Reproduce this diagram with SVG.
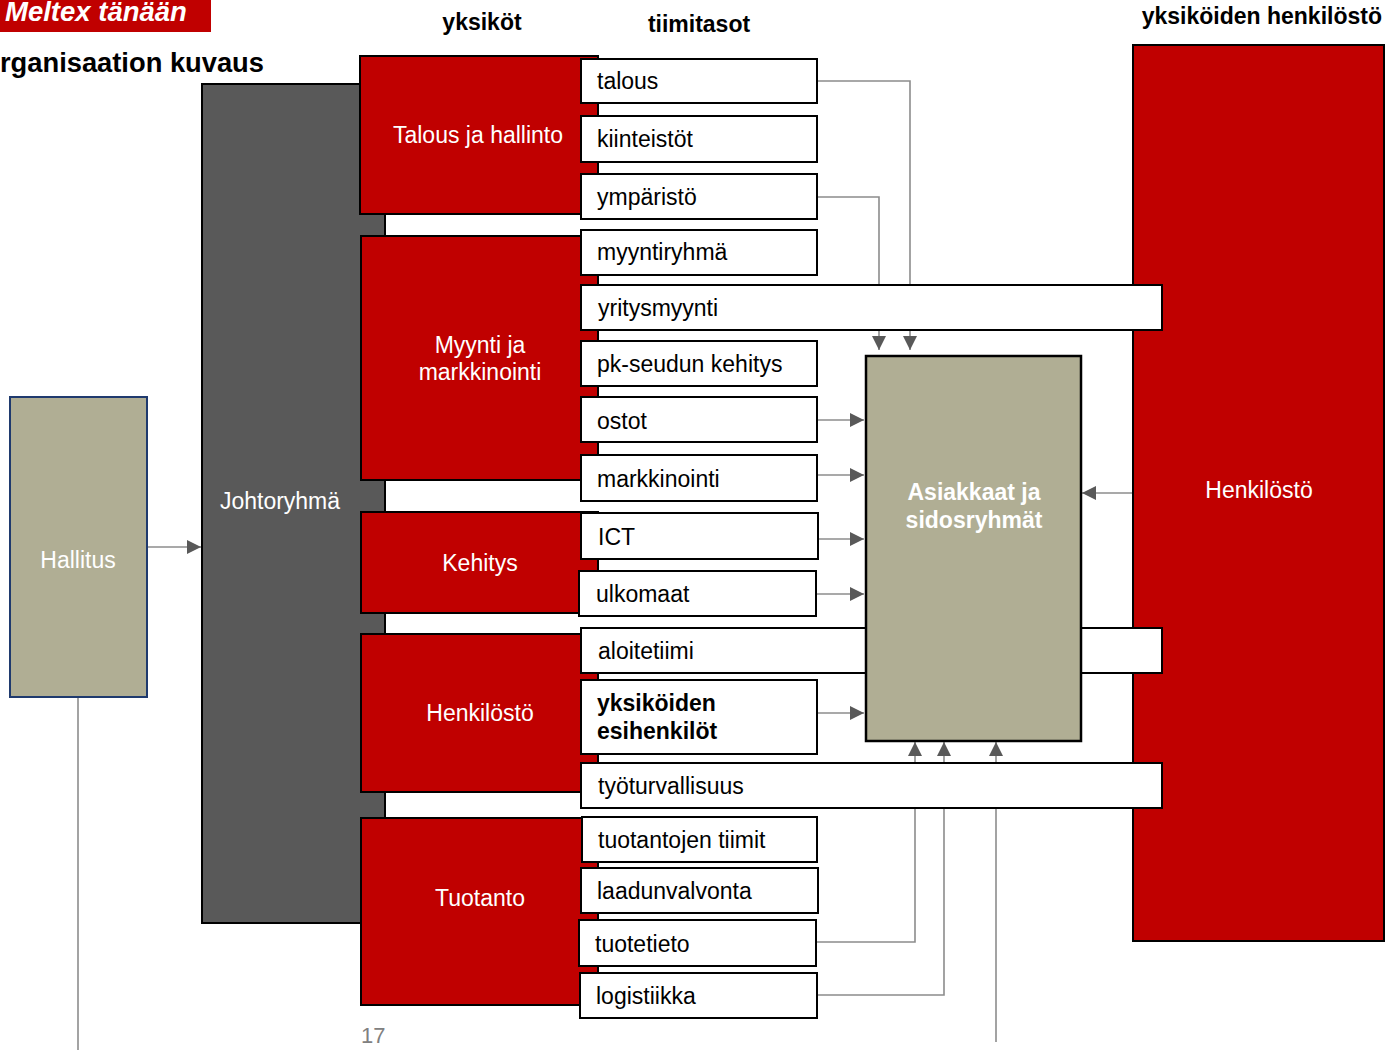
<svg xmlns="http://www.w3.org/2000/svg" width="1387" height="1050" viewBox="0 0 1387 1050">
<style>
text{font-family:"Liberation Sans",Arial,sans-serif;}
.hdr{font-size:23px;font-weight:bold;fill:#000;}
.unit{fill:#C00000;stroke:#000;stroke-width:2;}
.ut{font-size:23px;fill:#fff;text-anchor:middle;}
.team{fill:#fff;stroke:#000;stroke-width:2;}
.tt{font-size:23px;fill:#000;}
.olive{fill:#B0AE94;}
.conn{fill:none;stroke:#8C8C8C;stroke-width:1.6;}
</style>
<defs>
<marker id="arr" markerWidth="15" markerHeight="15" refX="14" refY="7" orient="auto" markerUnits="userSpaceOnUse">
<path d="M0,0 L14,7 L0,14 Z" fill="#595959"/>
</marker>
</defs>
<rect width="1387" height="1050" fill="#fff"/>

<g id="title">
<rect x="0" y="0" width="211" height="32" fill="#C00000"/>
<text x="5" y="21" style="font-size:27.5px;font-weight:bold;font-style:italic;fill:#fff">Meltex tänään</text>
<text x="0" y="72" style="font-size:27.3px;font-weight:bold;fill:#000">rganisaation kuvaus</text>
<text class="hdr" x="482" y="30" text-anchor="middle">yksiköt</text>
<text class="hdr" x="699" y="32" text-anchor="middle">tiimitasot</text>
<text class="hdr" x="1382" y="24" text-anchor="end">yksiköiden henkilöstö</text>
</g>

<g id="connectors">
<polyline class="conn" points="147,547 201,547" marker-end="url(#arr)"/>
<line class="conn" x1="78" y1="697" x2="78" y2="1050"/>
<polyline class="conn" points="817,81 910,81 910,350" marker-end="url(#arr)"/>
<polyline class="conn" points="817,197 879,197 879,350" marker-end="url(#arr)"/>
<polyline class="conn" points="817,420 864,420" marker-end="url(#arr)"/>
<polyline class="conn" points="817,475 864,475" marker-end="url(#arr)"/>
<polyline class="conn" points="818,539 864,539" marker-end="url(#arr)"/>
<polyline class="conn" points="816,594 864,594" marker-end="url(#arr)"/>
<polyline class="conn" points="817,713 864,713" marker-end="url(#arr)"/>
<polyline class="conn" points="1133,493 1082,493" marker-end="url(#arr)"/>
<polyline class="conn" points="816,942 915,942 915,742" marker-end="url(#arr)"/>
<polyline class="conn" points="817,995 944,995 944,742" marker-end="url(#arr)"/>
<polyline class="conn" points="996,1042 996,742" marker-end="url(#arr)"/>
</g>

<g id="hallitus">
<rect x="10" y="397" width="137" height="300" class="olive" stroke="#1F3A6E" stroke-width="2"/>
<text class="ut" x="78" y="568">Hallitus</text>
</g>

<g id="johtoryhma">
<rect x="202" y="84" width="183" height="839" fill="#595959" stroke="#000" stroke-width="2"/>
<text class="ut" x="280" y="509">Johtoryhmä</text>
</g>

<g id="unit-talous">
<rect class="unit" x="360" y="56" width="238" height="158"/>
<text class="ut" x="478" y="143">Talous ja hallinto</text>
</g>
<g id="unit-myynti">
<rect class="unit" x="361" y="236" width="237" height="244"/>
<text class="ut" x="480" y="353">Myynti ja</text>
<text class="ut" x="480" y="380">markkinointi</text>
</g>
<g id="unit-kehitys">
<rect class="unit" x="361" y="512" width="237" height="101"/>
<text class="ut" x="480" y="571">Kehitys</text>
</g>
<g id="unit-henkilosto">
<rect class="unit" x="361" y="634" width="237" height="158"/>
<text class="ut" x="480" y="721">Henkilöstö</text>
</g>
<g id="unit-tuotanto">
<rect class="unit" x="361" y="818" width="237" height="187"/>
<text class="ut" x="480" y="906">Tuotanto</text>
</g>

<g id="yksikoiden-henkilosto">
<rect class="unit" x="1133" y="45" width="251" height="896"/>
<text class="ut" x="1259" y="498">Henkilöstö</text>
</g>

<g id="team-talous"><rect class="team" x="581" y="59" width="236" height="44"/><text class="tt" x="597" y="89">talous</text></g>
<g id="team-kiinteistot"><rect class="team" x="581" y="116" width="236" height="46"/><text class="tt" x="597" y="147">kiinteistöt</text></g>
<g id="team-ymparisto"><rect class="team" x="581" y="174" width="236" height="45"/><text class="tt" x="597" y="205">ympäristö</text></g>
<g id="team-myyntiryhma"><rect class="team" x="581" y="230" width="236" height="45"/><text class="tt" x="597" y="260">myyntiryhmä</text></g>
<g id="team-yritysmyynti"><rect class="team" x="581" y="285" width="581" height="45"/><text class="tt" x="598" y="316">yritysmyynti</text></g>
<g id="team-pk"><rect class="team" x="581" y="341" width="236" height="45"/><text class="tt" x="597" y="372">pk-seudun kehitys</text></g>
<g id="team-ostot"><rect class="team" x="581" y="397" width="236" height="45"/><text class="tt" x="597" y="429">ostot</text></g>
<g id="team-markkinointi"><rect class="team" x="581" y="455" width="236" height="46"/><text class="tt" x="597" y="487">markkinointi</text></g>
<g id="team-ict"><rect class="team" x="581" y="513" width="237" height="46"/><text class="tt" x="598" y="545">ICT</text></g>
<g id="team-ulkomaat"><rect class="team" x="579" y="571" width="237" height="45"/><text class="tt" x="596" y="602">ulkomaat</text></g>
<g id="team-aloitetiimi"><rect class="team" x="581" y="628" width="581" height="45"/><text class="tt" x="598" y="659">aloitetiimi</text></g>
<g id="team-esihenkilot"><rect class="team" x="581" y="680" width="236" height="74"/><text class="tt" x="597" y="711" font-weight="bold">yksiköiden</text><text class="tt" x="597" y="739" font-weight="bold">esihenkilöt</text></g>
<g id="team-tyoturvallisuus"><rect class="team" x="581" y="763" width="581" height="45"/><text class="tt" x="598" y="794">työturvallisuus</text></g>
<g id="team-tuotantojen"><rect class="team" x="582" y="817" width="235" height="45"/><text class="tt" x="598" y="848">tuotantojen tiimit</text></g>
<g id="team-laadunvalvonta"><rect class="team" x="581" y="868" width="237" height="45"/><text class="tt" x="597" y="899">laadunvalvonta</text></g>
<g id="team-tuotetieto"><rect class="team" x="579" y="920" width="237" height="46"/><text class="tt" x="595" y="952">tuotetieto</text></g>
<g id="team-logistiikka"><rect class="team" x="580" y="973" width="237" height="45"/><text class="tt" x="596" y="1004">logistiikka</text></g>

<g id="asiakkaat">
<rect x="866" y="356" width="215" height="385" class="olive" stroke="#000" stroke-width="2.5"/>
<text x="974" y="500" style="font-size:23px;font-weight:bold;fill:#fff;text-anchor:middle">Asiakkaat ja</text>
<text x="974" y="528" style="font-size:23px;font-weight:bold;fill:#fff;text-anchor:middle">sidosryhmät</text>
</g>

<text x="361" y="1043" style="font-size:22px;fill:#808080">17</text>
</svg>
